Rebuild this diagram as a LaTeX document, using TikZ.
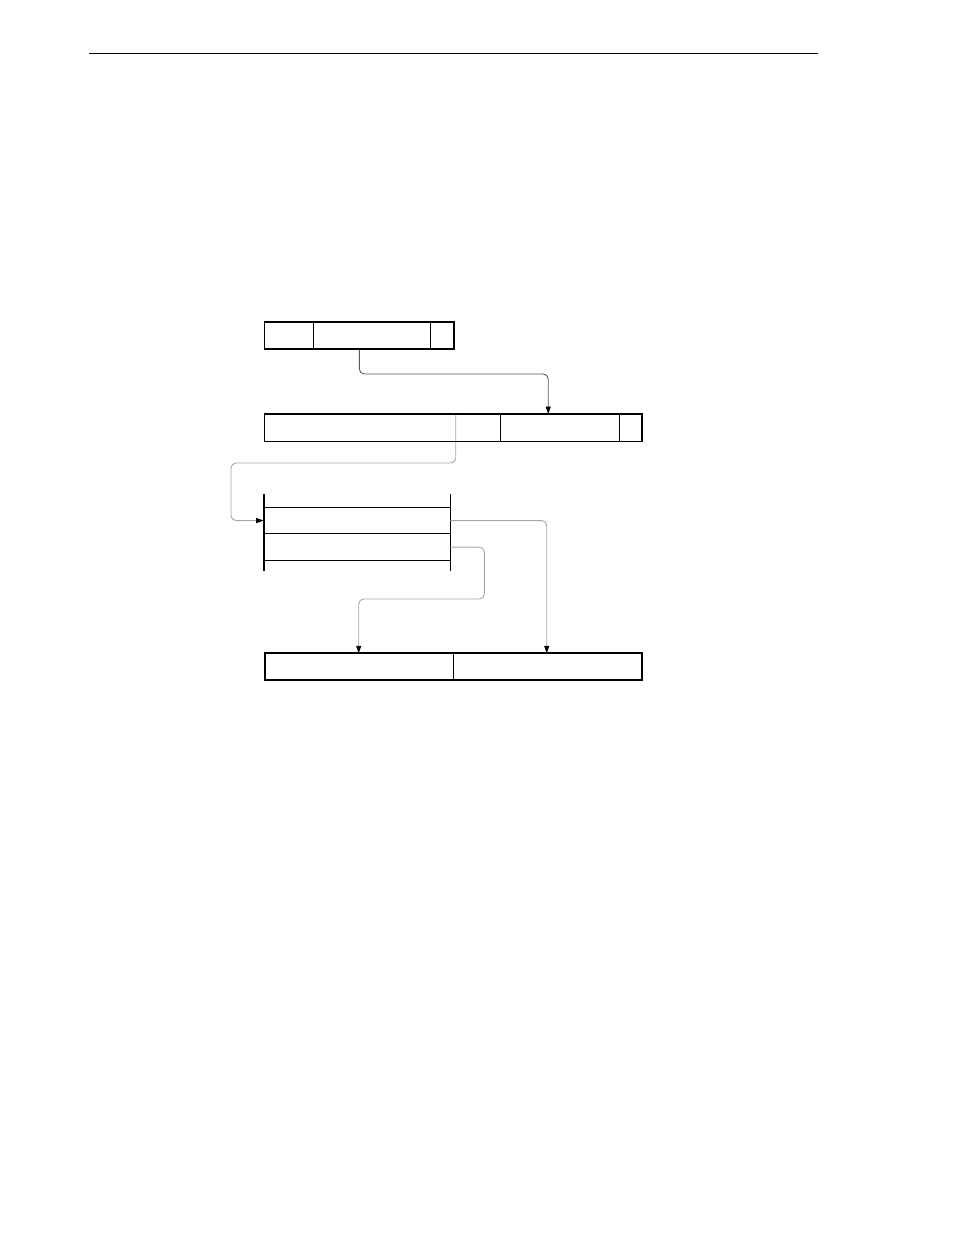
\documentclass[tikz,border=0pt]{standalone}
\usetikzlibrary{arrows.meta,positioning}
\tikzset{>={Triangle[length=7.5pt,width=5pt,color=black]}}
\tikzset{
  field/.style={draw, line width=0.9pt, minimum height=27.5pt, inner sep=0pt, outer sep=0pt, anchor=north west},
  frame/.style={line width=1.7pt},
  row/.style={minimum width=186.6pt, minimum height=26.5pt, inner sep=0pt, outer sep=0pt, anchor=north west},
  link/.style={->, draw=gray!70, line width=0.9pt, rounded corners=5pt}
}
\begin{document}
\begin{tikzpicture}[x=1pt,y=-1pt]
    \useasboundingbox (0,0) rectangle (954,1235);
    \draw[line width=1pt] (89.3,53.3) -- (817.7,53.3);

    % first entry
    \node[field, minimum width=49pt] (src1) at (264.5,321.8) {};
    \node[field, minimum width=117.2pt, right=0pt of src1] (src2) {};
    \node[field, minimum width=23.6pt, right=0pt of src2] (src3) {};

    % second entry
    \node[field, minimum width=236.2pt] (dsc1) at (264.5,414) {};
    \node[field, minimum width=118.3pt, right=0pt of dsc1] (dsc2) {};
    \node[field, minimum width=23.3pt, right=0pt of dsc2] (dsc3) {};

    % table
    \node[row] (row1) at (263.7,507.3) {};
    \node[row, below=0pt of row1] (row2) {};
    \draw[line width=0.9pt] (row1.north west) -- (row1.north east)
        (row2.north west) -- (row2.north east)
        (row2.south west) -- (row2.south east);
    \draw[line width=1.9pt] ([yshift=13.3pt]row1.north west) -- ([yshift=-10.4pt]row2.south west);
    \draw[line width=0.9pt] ([yshift=13.3pt]row1.north east) -- ([yshift=-10.4pt]row2.south east);

    % last entry
    \node[field, minimum width=188.6pt, minimum height=26.7pt] (dst1) at (264.7,653.3) {};
    \node[field, minimum width=189pt, minimum height=26.7pt, right=0pt of dst1] (dst2) {};

    % links
    \draw[link, draw=black!65] ([xshift=-12.8pt]src2.south) -- ++(0,24.7) -| ([xshift=-11.6pt]dsc2.north);
    \draw[link] ([xshift=-45pt]dsc1.north east) |- (231,463) |- (row1.west);
    \draw[link] (row1.east) -| ([xshift=-1.1pt]dst2.north);
    \draw[link] (row2.east) -| (484.3,599) -| ([xshift=-0.3pt]dst1.north);

    % outlines
    \draw[frame] (src1.north west) rectangle (src3.south east);
    \draw[frame] (dsc1.north west) rectangle (dsc3.south east);
    \draw[frame] (dst1.north west) rectangle (dst2.south east);
\end{tikzpicture}
\end{document}
